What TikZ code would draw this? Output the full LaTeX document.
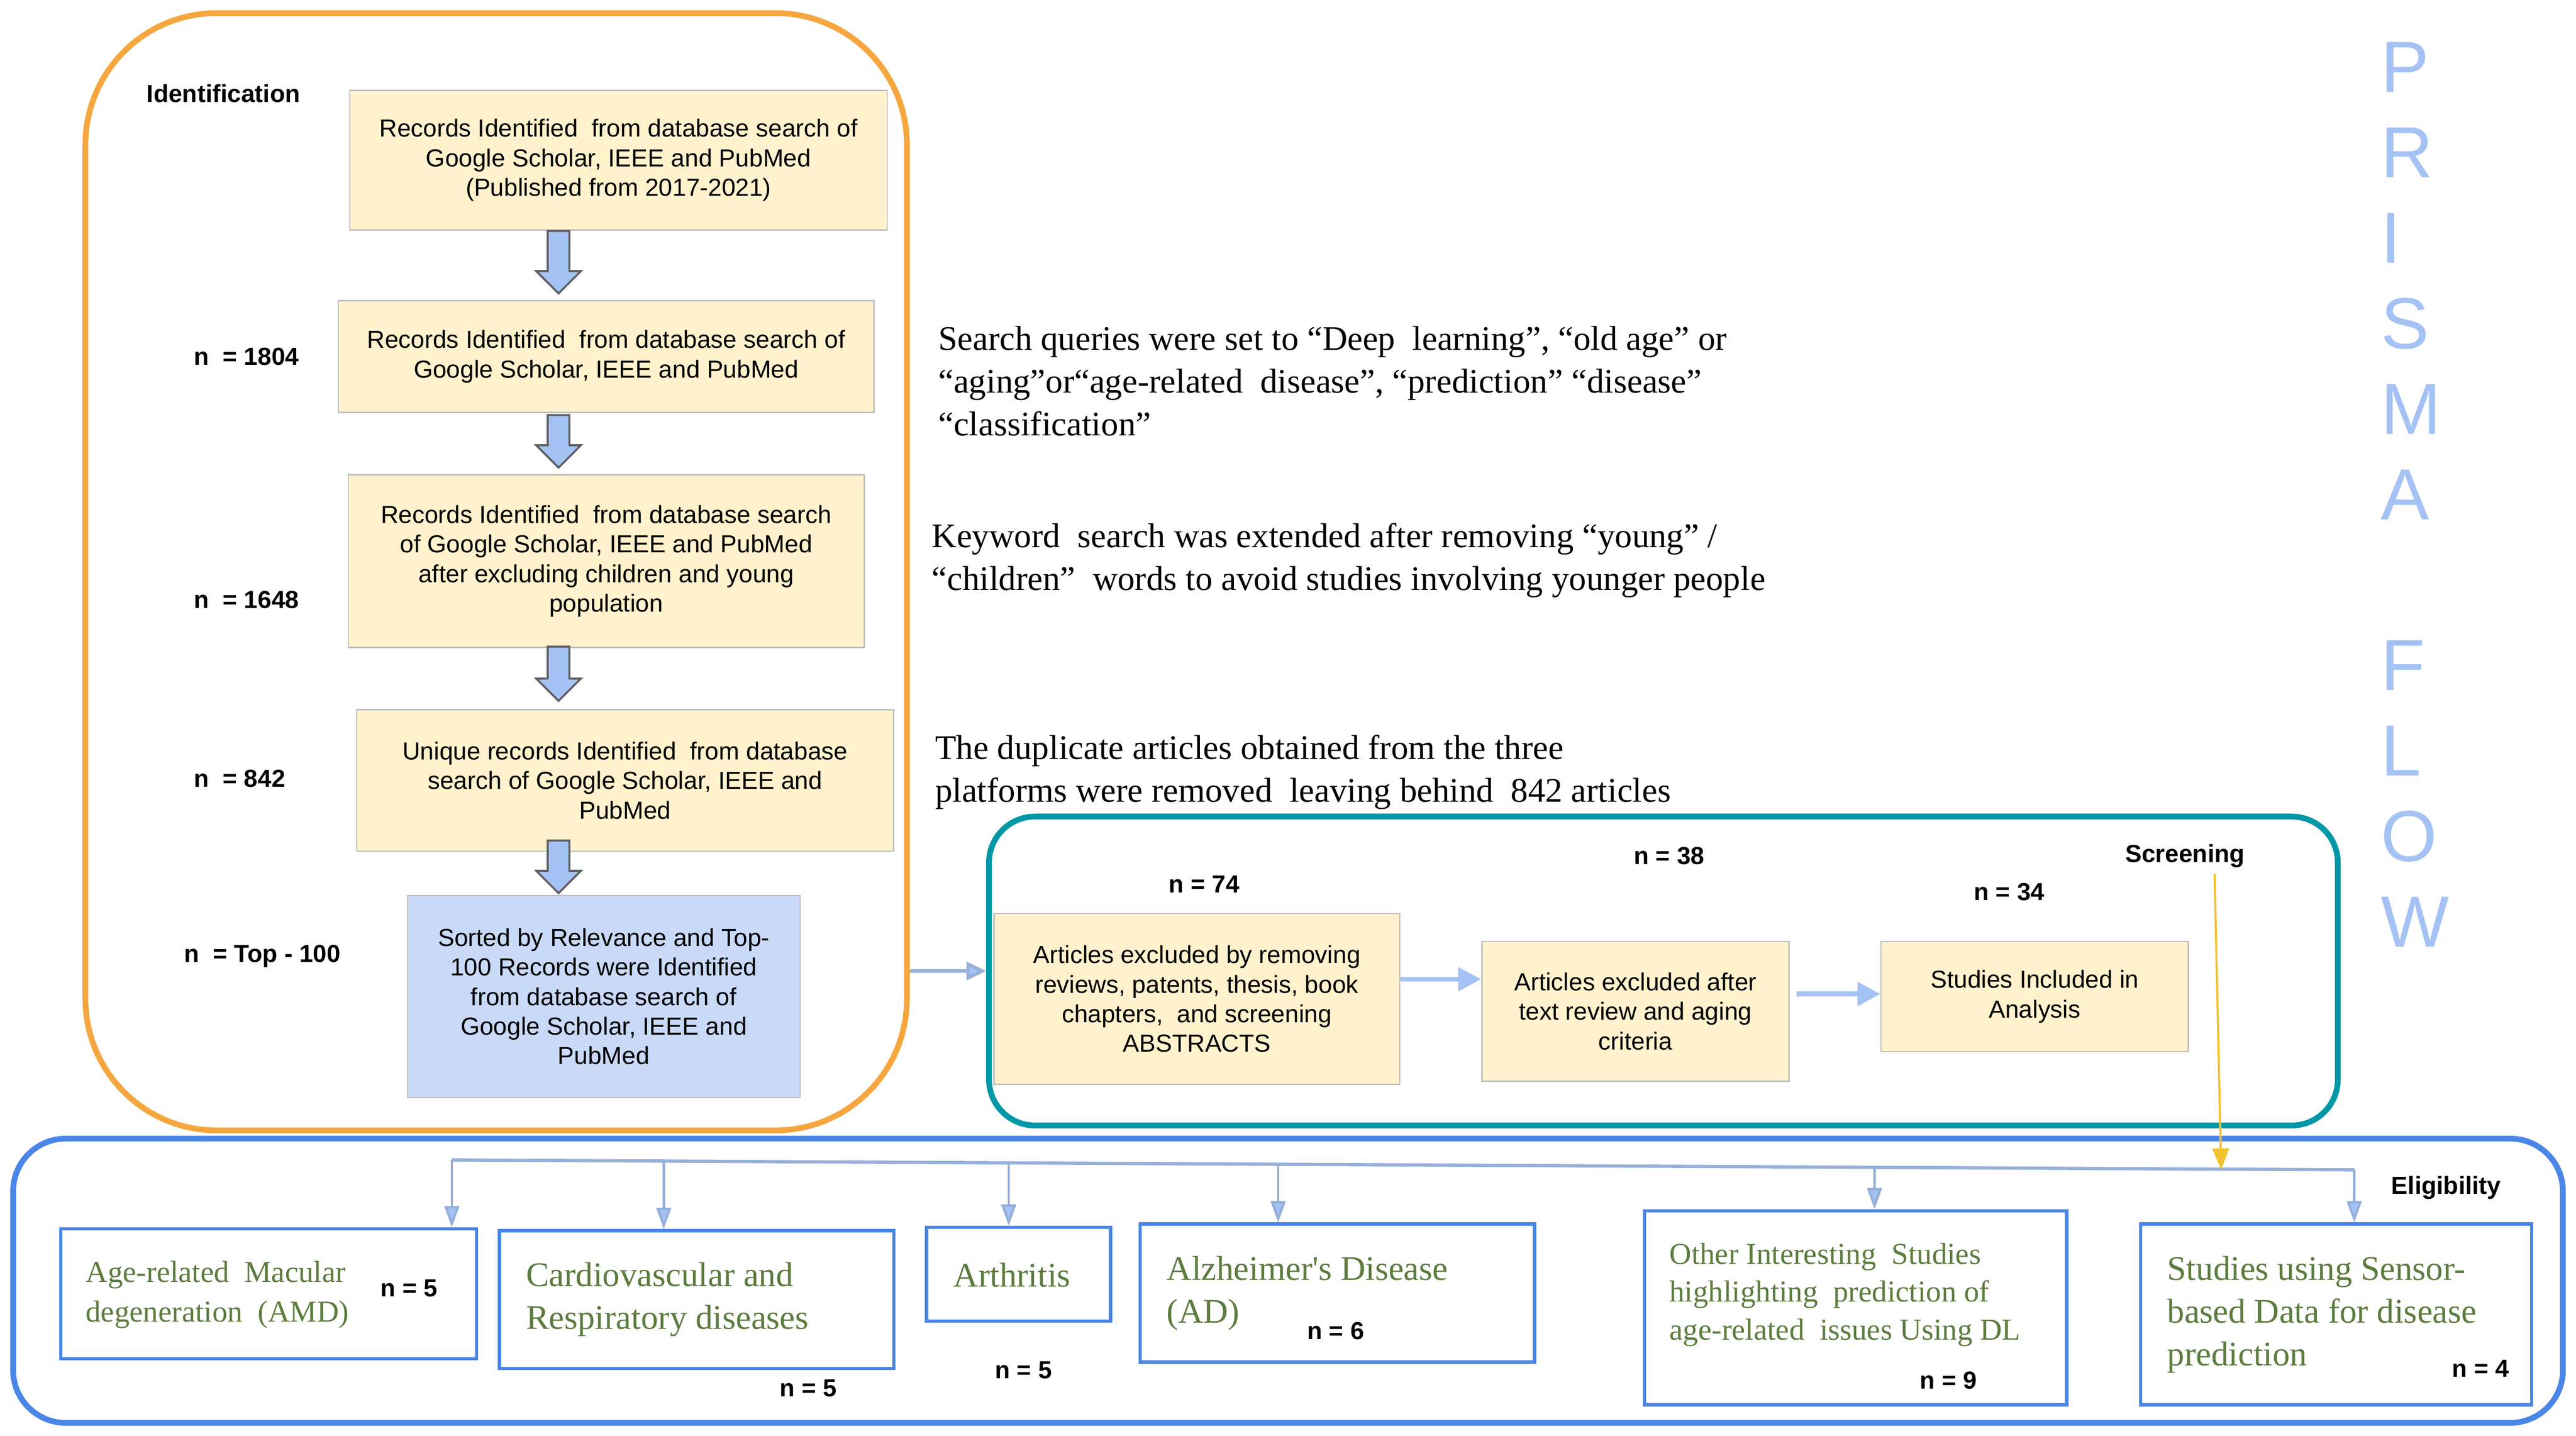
\documentclass[tikz,border=0pt]{standalone}
\usepackage{fontspec}
\setmainfont{Liberation Sans}
\newfontfamily\notefont{Liberation Serif}
\usetikzlibrary{arrows.meta,positioning,shapes.arrows}

\definecolor{idorange}{RGB}{246,166,62}
\definecolor{scrteal}{RGB}{0,151,167}
\definecolor{elblue}{RGB}{74,134,232}
\definecolor{recyellow}{RGB}{255,242,204}
\definecolor{recblue}{RGB}{201,218,248}
\definecolor{boxgray}{RGB}{190,190,190}
\definecolor{arrowblue}{RGB}{164,194,244}
\definecolor{arrowgray}{RGB}{95,95,95}
\definecolor{busblue}{RGB}{150,176,218}
\definecolor{disgreen}{RGB}{92,124,62}
\definecolor{pathyellow}{RGB}{241,194,50}

\begin{document}
\begin{tikzpicture}[x=1pt,y=-1pt,
    stage/.style={draw,line width=3.5pt,fill=none},
    recbox/.style={draw=boxgray,fill=recyellow,line width=0.8pt,align=center,
      font=\fontsize{15}{18}\selectfont,inner sep=0pt},
    sortbox/.style={recbox,fill=recblue},
    boldlabel/.style={font=\bfseries\fontsize{15}{18}\selectfont,inner sep=0pt},
    note/.style={font=\notefont\fontsize{21}{26}\selectfont,align=left,anchor=west,inner sep=0pt},
    disbox/.style={draw=elblue,line width=2pt,fill=white,inner sep=0pt},
    distext/.style={font=\notefont\fontsize{19.5}{25}\selectfont,text=disgreen,align=left,anchor=west,inner sep=0pt},
    downarrow/.style={single arrow,shape border rotate=270,draw=arrowgray,fill=arrowblue,
      line width=1.2pt,inner sep=6pt,single arrow head extend=7pt,
      single arrow head indent=0pt,anchor=north},
    flowarrow/.style={draw=arrowblue,line width=3pt,-{Triangle[length=14pt,width=14pt]}},
    linkarrow/.style={draw=busblue,line width=2pt,-{Triangle[length=12pt,width=11pt,fill=arrowblue]}},
    busline/.style={draw=busblue,line width=2pt},
    busarrow/.style={draw=busblue,line width=1.5pt,-{Triangle[length=13pt,width=9pt,fill=arrowblue]}},
    letter/.style={font=\fontsize{44}{44}\selectfont,text=arrowblue,anchor=west,inner sep=0pt}]

\useasboundingbox (0,0) rectangle (1568,874);

% identification
\node[stage,draw=idorange,rounded corners=80pt,minimum width=500pt,minimum height=680pt] (ident) at (302,348) {};
\node[boldlabel] (idlabel) at (136,57) {Identification};

\node[recbox,minimum width=327pt,minimum height=85pt] (r1) at (376.5,97.5)
  {Records Identified\ \ from database search of\\Google Scholar, IEEE and PubMed\\(Published from 2017-2021)};
\node[recbox,minimum width=326pt,minimum height=68pt] (r2) at (369,217)
  {Records Identified\ \ from database search of\\Google Scholar, IEEE and PubMed};
\node[recbox,minimum width=314pt,minimum height=105pt] (r3) at (369,341.5)
  {Records Identified\ \ from database search\\of Google Scholar, IEEE and PubMed\\after excluding children and young\\population};
\node[recbox,minimum width=327pt,minimum height=86pt] (r4) at (380.5,475)
  {Unique records Identified\ \ from database\\search of Google Scholar, IEEE and\\PubMed};
\node[sortbox,minimum width=239pt,minimum height=123pt] (r5) at (367.5,606.5)
  {Sorted by Relevance and Top-\\100 Records were Identified\\from database search of\\Google Scholar, IEEE and\\PubMed};

\node[downarrow,minimum height=38pt] (a1) at (340,140) {};
\node[downarrow,minimum height=32pt] (a2) at (340,252) {};
\node[downarrow,minimum height=33pt] (a3) at (340,393) {};
\node[downarrow,minimum height=32pt] (a4) at (340,511) {};

\node[boldlabel,anchor=west] (n1) at (118,217) {n\ \ = 1804};
\node[boldlabel,anchor=west] (n2) at (118,365) {n\ \ = 1648};
\node[boldlabel,anchor=west] (n3) at (118,474) {n\ \ = 842};
\node[boldlabel,anchor=west] (n4) at (112,582) {n\ \ = Top - 100};

% notes
\node[note] (q1) at (571,232) {Search queries were set to “Deep\ \ learning”, “old age” or\\“aging”or“age-related\ \ disease”, “prediction” “disease”\\“classification”};
\node[note] (q2) at (567,341) {Keyword\ \ search was extended after removing “young” /\\“children”\ \ words to avoid studies involving younger people};
\node[note] (q3) at (569,470) {The duplicate articles obtained from the three\\platforms were removed\ \ leaving behind\ \ 842 articles};

% screening
\node[stage,draw=scrteal,rounded corners=28pt,minimum width=821pt,minimum height=188pt] (screen) at (1012.5,591) {};
\node[boldlabel] (scrlabel) at (1330,521) {Screening};

\node[recbox,minimum width=247pt,minimum height=104pt] (ex1) at (728.5,608)
  {Articles excluded by removing\\reviews, patents, thesis, book\\chapters,\ \ and screening\\ABSTRACTS};
\node[recbox,minimum width=187pt,minimum height=85pt] (ex2) at (995.5,615.5)
  {Articles excluded after\\text review and aging\\criteria};
\node[recbox,minimum width=187pt,minimum height=67pt] (incl) at (1238.5,606.5)
  {Studies Included in\\Analysis};

\node[boldlabel] (n74) at (733,538) {n\ = 74};
\node[boldlabel] (n38) at (1016,521) {n\ = 38};
\node[boldlabel] (n34) at (1223,543) {n\ = 34};

\draw[linkarrow] (ident.east |- screen.west) -- (screen.west);
\draw[flowarrow] ([yshift=12pt]ex1.east) -- ([yshift=12pt]ex1.east -| ex2.west);
\draw[flowarrow] ([yshift=1.5pt]incl.west -| ex2.east) ++(4,0) -- ([yshift=1.5pt]incl.west);

% eligibility
\node[stage,draw=elblue,rounded corners=32pt,minimum width=1552pt,minimum height=173pt] (elig) at (784,779.5) {};
\node[boldlabel] (ellabel) at (1489,723) {Eligibility};

\node[disbox,minimum width=253pt,minimum height=79pt] (amd) at (163.5,787.5) {};
\node[disbox,minimum width=240pt,minimum height=84pt] (cvd) at (424,791) {};
\node[disbox,minimum width=112pt,minimum height=57pt] (arth) at (620,775.5) {};
\node[disbox,minimum width=240pt,minimum height=84pt] (alz) at (814,787) {};
\node[disbox,minimum width=257pt,minimum height=118pt] (other) at (1129.5,796) {};
\node[disbox,minimum width=238pt,minimum height=110pt] (sens) at (1422,800) {};

\node[distext,font=\notefont\fontsize{18.5}{24}\selectfont] (tamd) at (52,788) {Age-related\ \ Macular\\degeneration\ \ (AMD)};
\node[distext,font=\notefont\fontsize{21}{26}\selectfont] (tcvd) at (320,791) {Cardiovascular and\\Respiratory diseases};
\node[distext,font=\notefont\fontsize{21}{26}\selectfont,anchor=center] (tarth) at (616,776) {Arthritis};
\node[distext,font=\notefont\fontsize{21}{26}\selectfont] (talz) at (710,787) {Alzheimer's Disease\\(AD)};
\node[distext,font=\notefont\fontsize{18.5}{23}\selectfont] (tother) at (1016,788) {Other Interesting\ \ Studies\\highlighting\ \ prediction of\\age-related\ \ issues Using DL};
\node[distext,font=\notefont\fontsize{21}{26}\selectfont] (tsens) at (1319,800) {Studies using Sensor-\\based Data for disease\\prediction};

\node[boldlabel] (camd) at (249,784) {n\ = 5};
\node[boldlabel] (ccvd) at (492,845) {n\ = 5};
\node[boldlabel] (carth) at (623,834) {n\ = 5};
\node[boldlabel] (calz) at (813,810) {n\ = 6};
\node[boldlabel] (cother) at (1186,840) {n\ = 9};
\node[boldlabel] (csens) at (1510,833) {n\ = 4};

% bus to the categories
\coordinate (bamd) at (275,706);
\coordinate (bcvd) at (404,706.7);
\coordinate (barth) at (614,707.8);
\coordinate (balz) at (778,708.6);
\coordinate (bother) at (1141,710.5);
\coordinate (bsens) at (1433,712);
\draw[busline] (bamd) -- (bsens);
\foreach \b in {amd,cvd,arth,alz,other,sens}
  \draw[busarrow] (b\b) -- (b\b |- \b.north);

\coordinate (ystart) at (1348,532);
\coordinate (ytip) at (1352,712);
\draw[draw=pathyellow,line width=1.3pt,-{Triangle[length=13pt,width=10pt]}] (ystart) -- (ytip);

% side title
\foreach \l/\y in {P/41,R/93,I/145,S/197,M/249,A/301,F/405,L/457,O/509,W/561}
  \node[letter] (t\l) at (1449,\y) {\l};

\end{tikzpicture}
\end{document}
